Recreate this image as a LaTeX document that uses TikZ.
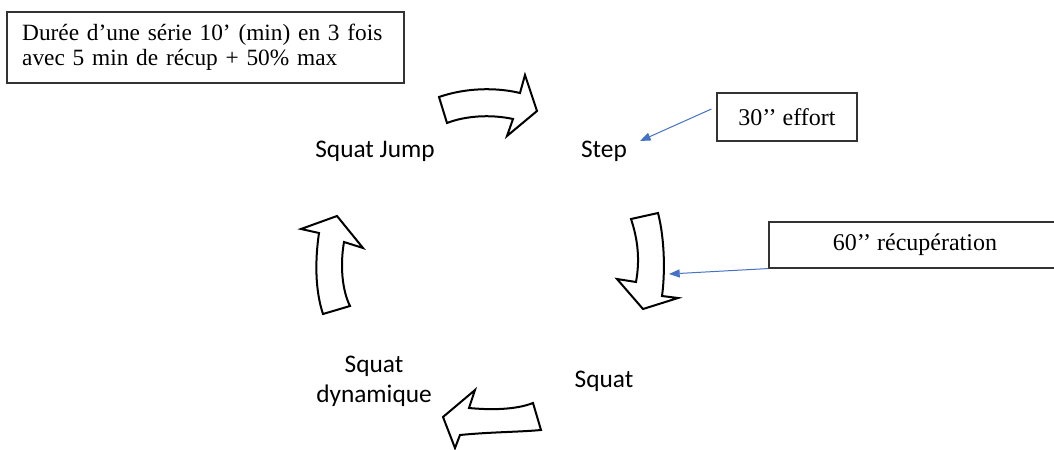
\documentclass[tikz,border=0pt]{standalone}
\usepackage{fontspec}
\setmainfont{Liberation Serif}
\newfontfamily\labelfont{Carlito}
\usepackage{tikz}
\usetikzlibrary{arrows.meta}
\definecolor{noteBlue}{HTML}{4472C4}

\begin{document}
\begin{tikzpicture}[
  x=0.75pt, y=-0.75pt,
  every node/.style={inner sep=0pt},
  exo/.style={font=\labelfont\fontsize{19}{22.5}\selectfont, anchor=base, align=center},
  note/.style={draw=black!80, line width=0.8pt, font=\fontsize{18}{18.75}\selectfont,
               align=center},
  turn/.style={draw=black, fill=white, line width=1.5pt, line join=miter},
  pointer/.style={-{Triangle[length=8pt, width=6pt]}, noteBlue, line width=0.75pt}
]
\path[use as bounding box, clip] (0,0) rectangle (1054,450);

\node[note, align=left, text width=275pt, inner xsep=11.25pt,
      font=\fontsize{17.5}{18.75}\selectfont,
      minimum width=297.75pt, minimum height=53.25pt] (serie) at (205.5,47.5)
  {Durée d’une série 10’ (min) en 3 fois\\ avec 5 min de récup + 50\% max};

\node[exo] (jump)  at (375,157) {Squat Jump};
\node[exo] (stepx) at (604,157) {Step};
\node[exo] (squat) at (604,387) {Squat};
\node[exo] (dyn)   at (374,402) {Squat\\ dynamique};

\node[note, minimum width=105pt, minimum height=36pt] (effort) at (787,117) {30’’ effort};
\node[note, minimum width=219pt, minimum height=34.5pt] (recup) at (915,245) {60’’ récupération};

% curved block arrows of the circuit
\draw[turn] (439,97) .. controls (465,88) and (495,87) .. (520,93) -- (525,75) -- (537,111)
  -- (507,136) -- (513,119) .. controls (490,114) and (465,116) .. (447,123) -- cycle;
\draw[turn] (631,219) -- (658,213) .. controls (665,240) and (665,275) .. (662,296) -- (678,298)
  -- (643,309) -- (617,279) -- (636,282) .. controls (640,260) and (638,240) .. (631,219) -- cycle;
\draw[turn] (533,403) .. controls (515,410) and (490,410) .. (469,408) -- (475,390) -- (443,417)
  -- (455,448) -- (460,435) .. controls (490,432) and (520,432) .. (541,430) -- cycle;
\draw[turn] (323,314) .. controls (315,290) and (315,260) .. (319,233) -- (301,229) -- (337,216)
  -- (363,248) -- (344,242) .. controls (340,265) and (342,290) .. (350,306) -- cycle;

\coordinate (stepTip) at (640,141);
\coordinate (recupTip) at (669,274);
\draw[pointer] ([xshift=-3.75pt, yshift=6pt]effort.west) -- (stepTip);
\draw[pointer] (recup.south west) -- (recupTip);
\end{tikzpicture}
\end{document}
